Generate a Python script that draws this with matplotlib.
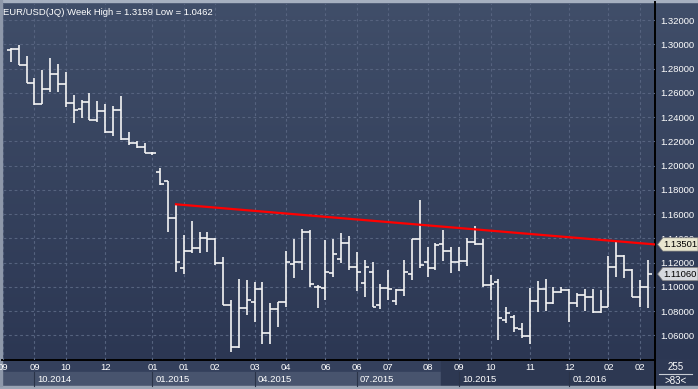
import numpy as np
import matplotlib.pyplot as plt
from matplotlib.transforms import blended_transform_factory
from matplotlib.patches import Rectangle, Polygon

plt.rcParams['font.family'] = ['Liberation Sans', 'DejaVu Sans']

# weekly EUR/USD bars
opens = [1.2950, 1.2961, 1.2829, 1.2678, 1.2508, 1.2631, 1.2758, 1.2675, 1.2513, 1.2464,
         1.2522, 1.2376, 1.2450, 1.2280, 1.2458, 1.2219, 1.2186, 1.2156, 1.2101, 1.1950,
         1.1873, 1.1571, 1.1153, 1.1296, 1.1318, 1.1406, 1.1395, 1.1195, 1.0849, 1.0503,
         1.0825, 1.0874, 1.0984, 1.0619, 1.0816, 1.0874, 1.1190, 1.1209, 1.1451, 1.1003,
         1.0988, 1.1115, 1.1231, 1.1360, 1.1167, 1.1031, 1.1126, 1.0852, 1.0989, 1.0885,
         1.0975, 1.1105, 1.1393, 1.1209, 1.1154, 1.1354, 1.1297, 1.1204, 1.1217, 1.1368,
         1.1354, 1.1017, 1.1044, 1.0728, 1.0755, 1.0654, 1.0596, 1.0887, 1.0984, 1.0866,
         1.0961, 1.0975, 1.0871, 1.0934, 1.0920, 1.0797, 1.0833, 1.1162, 1.1258, 1.1140,
         1.0920, 1.0998]
highs = [1.2972, 1.2994, 1.2904, 1.2719, 1.2788, 1.2884, 1.2835, 1.2774, 1.2582, 1.2541,
         1.2596, 1.2533, 1.2505, 1.2491, 1.2574, 1.2280, 1.2203, 1.2189, 1.2115, 1.1977,
         1.1876, 1.1681, 1.1428, 1.1543, 1.1455, 1.1450, 1.1406, 1.1250, 1.0893, 1.1062,
         1.1058, 1.1044, 1.1041, 1.0868, 1.0874, 1.1297, 1.1396, 1.1476, 1.1465, 1.1017,
         1.1387, 1.1396, 1.1448, 1.1420, 1.1291, 1.1223, 1.1204, 1.1025, 1.1140, 1.0984,
         1.1223, 1.1393, 1.1717, 1.1332, 1.1360, 1.1470, 1.1332, 1.1327, 1.1401, 1.1503,
         1.1393, 1.1099, 1.1063, 1.0838, 1.0769, 1.0701, 1.0989, 1.1052, 1.1063, 1.1003,
         1.1003, 1.0981, 1.0948, 1.0981, 1.0981, 1.0975, 1.1255, 1.1373, 1.1262, 1.1150,
         1.1058, 1.1223]
lows = [1.2857, 1.2829, 1.2678, 1.2500, 1.2508, 1.2609, 1.2609, 1.2486, 1.2354, 1.2390,
        1.2376, 1.2362, 1.2266, 1.2247, 1.2211, 1.2170, 1.2142, 1.2101, 1.2087, 1.1840,
        1.1455, 1.1120, 1.1104, 1.1277, 1.1277, 1.1285, 1.1181, 1.0852, 1.0462, 1.0495,
        1.0769, 1.0714, 1.0528, 1.0528, 1.0668, 1.0835, 1.1072, 1.1140, 1.1003, 1.0825,
        1.0893, 1.1085, 1.1200, 1.1140, 1.0967, 1.0920, 1.0833, 1.0819, 1.0893, 1.0852,
        1.0926, 1.1058, 1.1159, 1.1085, 1.1140, 1.1214, 1.1113, 1.1132, 1.1173, 1.1346,
        1.0998, 1.0893, 1.0563, 1.0701, 1.0632, 1.0577, 1.0528, 1.0797, 1.0805, 1.0860,
        1.0953, 1.0714, 1.0838, 1.0801, 1.0783, 1.0788, 1.0833, 1.1080, 1.1072, 1.0915,
        1.0838, 1.0825]
closes = [1.2961, 1.2829, 1.2678, 1.2508, 1.2631, 1.2758, 1.2675, 1.2513, 1.2456, 1.2522,
          1.2376, 1.2450, 1.2280, 1.2458, 1.2219, 1.2186, 1.2156, 1.2101, 1.2101, 1.1846,
          1.1565, 1.1208, 1.1296, 1.1318, 1.1406, 1.1395, 1.1194, 1.0849, 1.0503, 1.0825,
          1.0893, 1.0984, 1.0619, 1.0816, 1.0874, 1.1202, 1.1209, 1.1451, 1.1025, 1.0998,
          1.1121, 1.1272, 1.1360, 1.1167, 1.1121, 1.1162, 1.0838, 1.0989, 1.0984, 1.0975,
          1.1126, 1.1393, 1.1181, 1.1154, 1.1346, 1.1297, 1.1204, 1.1217, 1.1368, 1.1354,
          1.1017, 1.1025, 1.0745, 1.0783, 1.0660, 1.0596, 1.0887, 1.0984, 1.0871, 1.0961,
          1.0975, 1.0871, 1.0934, 1.0920, 1.0797, 1.0833, 1.1162, 1.1258, 1.1140, 1.0920,
          1.0998, 1.1106]

month_pos = [-1, 3, 7, 12, 18, 22, 26, 31, 35, 40, 44, 48, 53, 57, 61, 66, 71, 76, 80]
month_labels = ["09", "09", "10", "12", "01", "01", "02", "03", "04", "06", "06",
                "07", "08", "09", "10", "11", "12", "02", "02"]
quarter_pos = [3, 18, 31, 44, 57, 71]
quarter_labels = ["10.2014", "01.2015", "04.2015", "07.2015", "10.2015", "01.2016"]
price_ticks = [1.06, 1.08, 1.10, 1.12, 1.14, 1.16, 1.18, 1.20, 1.22, 1.24, 1.26, 1.28, 1.30, 1.32]

trend_start_idx = 21
trend_start = 1.1681
trend_end = 1.13501
last_price = 1.11060
title = "EUR/USD(JQ) Week High = 1.3159 Low = 1.0462"
total_bars = "255"
shown_bars = ">83<"

W, H = 698, 389
def box(x0, y0, x1, y1):
    return [x0 / W, 1 - y1 / H, (x1 - x0) / W, (y1 - y0) / H]

fig = plt.figure(figsize=(W / 100, H / 100), dpi=100, facecolor="#2e3954")

# full-figure frame for panels and borders (pixel coords)
bg = fig.add_axes([0, 0, 1, 1], zorder=-5)
bg.set_xlim(0, W)
bg.set_ylim(H, 0)
bg.axis("off")
grad = np.linspace(0, 1, 256).reshape(-1, 1)
from matplotlib.colors import LinearSegmentedColormap
cmap = LinearSegmentedColormap.from_list("bgc", ["#404e69", "#2c3753"])
bg.imshow(grad, cmap=cmap, extent=[0, W, 360, 0], aspect="auto")
bg.add_patch(Rectangle((0, 360), W, 12, color="#34405c"))
bg.add_patch(Rectangle((0, 372), 655, 14, color="#48546e"))
bg.add_patch(Rectangle((441, 360), 214, 26, color="#2d3852"))
bg.add_patch(Rectangle((655, 360), 43, 29, color="#2e3954"))
bg.add_patch(Rectangle((0, 386), W, 3, color="#9aa4b4"))
bg.add_patch(Rectangle((0, 0), W, 2, color="#a6b0c0"))
bg.add_patch(Rectangle((0, 0), 2, 386, color="#8e98aa"))
bg.plot([655, 655], [2, 389], color="black", lw=1.4)
bg.plot([2, 655], [360, 360], color="black", lw=1.4)
bg.plot([659, 692], [374, 374], color="#c8ccd4", lw=0.8)
bg.text(676, 367, total_bars, color="white", fontsize=7, ha="center", va="center")
bg.text(676, 381, shown_bars, color="white", fontsize=7, ha="center", va="center")

ax = fig.add_axes(box(3, 3, 655, 360))
ax.patch.set_alpha(0)
xmin, xmax = (3 - 10.3) / 7.87, (655 - 10.3) / 7.87
ax.set_xlim(xmin, xmax)
ax.set_ylim(1.30 - (360 - 44.3) / 1213, 1.30 + 41.3 / 1213)
for s in ax.spines.values():
    s.set_visible(False)

ax.set_yticks(price_ticks)
ax.set_yticklabels(["%.5f" % p for p in price_ticks])
ax.yaxis.tick_right()
ax.tick_params(axis="y", length=0, pad=4, labelsize=6.8, labelcolor="white")
ax.set_xticks(month_pos)
ax.set_xticklabels(month_labels)
ax.tick_params(axis="x", length=0, pad=2, labelsize=6.8, labelcolor="white")
ax.grid(True, color="#56637f", lw=0.8, linestyle=(0, (2.5, 2.5)))
ax.set_axisbelow(True)

idx = np.arange(len(closes))
ax.vlines(idx, lows, highs, color="#f4f4f4", lw=1.2, zorder=3)
ax.hlines(opens, idx - 0.5, idx, color="#f4f4f4", lw=1.2, zorder=3)
ax.hlines(closes, idx, idx + 0.5, color="#f4f4f4", lw=1.2, zorder=3)

ax.plot([trend_start_idx, xmax], [trend_start, trend_end], color="#ff0000", lw=1.6, zorder=4)

tr = blended_transform_factory(ax.transData, ax.transAxes)
for q, lab in zip(quarter_pos, quarter_labels):
    ax.plot([q, q], [-0.034, -0.073], color="#2a3348", lw=0.8, transform=tr, clip_on=False)
    ax.text(q + 0.4, -0.054, lab, transform=tr, color="white", fontsize=6.8,
            ha="left", va="center", clip_on=False)

ax.text(0.0, 0.985, title, transform=ax.transAxes, color="white", fontsize=6.8,
        ha="left", va="top")

# price tags on the right axis
ty = blended_transform_factory(ax.transAxes, ax.transData)
for val, fc in [(trend_end, "#e8e6cf"), (last_price, "#d6d9de")]:
    ax.add_patch(Polygon([[1.004, val], [1.012, val + 0.0055], [1.066, val + 0.0055],
                          [1.066, val - 0.0055], [1.012, val - 0.0055]],
                         closed=True, transform=ty, facecolor=fc, edgecolor="#777777",
                         lw=0.5, clip_on=False, zorder=6))
    ax.text(1.013, val, "%.5f" % val, transform=ty, color="black", fontsize=6.8,
            ha="left", va="center", clip_on=False, zorder=7)

fig.savefig("out.png", dpi=100, facecolor=fig.get_facecolor())
